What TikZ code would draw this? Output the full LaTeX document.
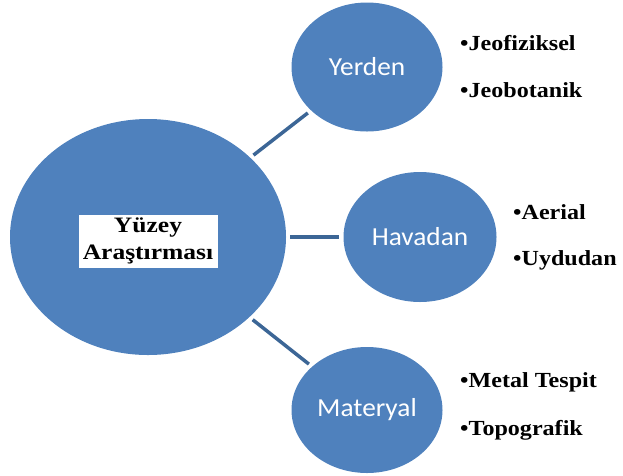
\documentclass[tikz,border=0pt]{standalone}
\usepackage{fontspec}
\usetikzlibrary{shapes.geometric}
\newfontfamily\circfont[FakeStretch=1.05]{Carlito}
\newfontfamily\itemfont[FakeStretch=1.12]{Liberation Serif}
\newfontfamily\titlefont[FakeStretch=1.16]{Liberation Serif}
\definecolor{bubblefill}{RGB}{79,129,189}
\definecolor{linkcol}{RGB}{60,102,150}

\begin{document}
\begin{tikzpicture}[x=1pt,y=-1pt,
  bubble/.style={ellipse, fill=bubblefill, text=white, inner sep=0pt,
    font=\circfont\fontsize{26}{30}\selectfont},
  item/.style={anchor=west, inner sep=0pt,
    font=\itemfont\bfseries\fontsize{21.5}{25}\selectfont},
  link/.style={draw=linkcol, line width=3.5pt, shorten <=4pt, shorten >=4pt}]
\useasboundingbox (0,0) rectangle (623,475);

\node[bubble, minimum width=276pt, minimum height=236pt] (yuzey) at (148,237) {};
\node[fill=white, inner sep=0pt, minimum width=139pt, minimum height=53pt, align=center,
  font=\titlefont\bfseries\fontsize{22}{27}\selectfont] (baslik) at (148,241) {Yüzey\\Araştırması};

\node[bubble, minimum width=151pt, minimum height=129pt] (yerden) at (367,67) {Yerden};
\node[bubble, minimum width=153pt, minimum height=130pt] (havadan) at (420,237) {Havadan};
\node[bubble, minimum width=151pt, minimum height=126pt] (materyal) at (367,410) {Materyal};

\draw[link] (yuzey) -- (yerden);
\draw[link] (yuzey) -- (havadan);
\draw[link] (yuzey) -- (materyal);

\node[item] (jeofiz) at (460,43) {•Jeofiziksel};
\node[item] (jeobot) at (460,90) {•Jeobotanik};
\node[item] (aerial) at (513,212) {•Aerial};
\node[item] (uydu) at (513,260) {•Uydudan};
\node[item] (metal) at (460,382) {•Metal Tespit};
\node[item] (topo) at (460,430) {•Topografik};
\end{tikzpicture}
\end{document}
